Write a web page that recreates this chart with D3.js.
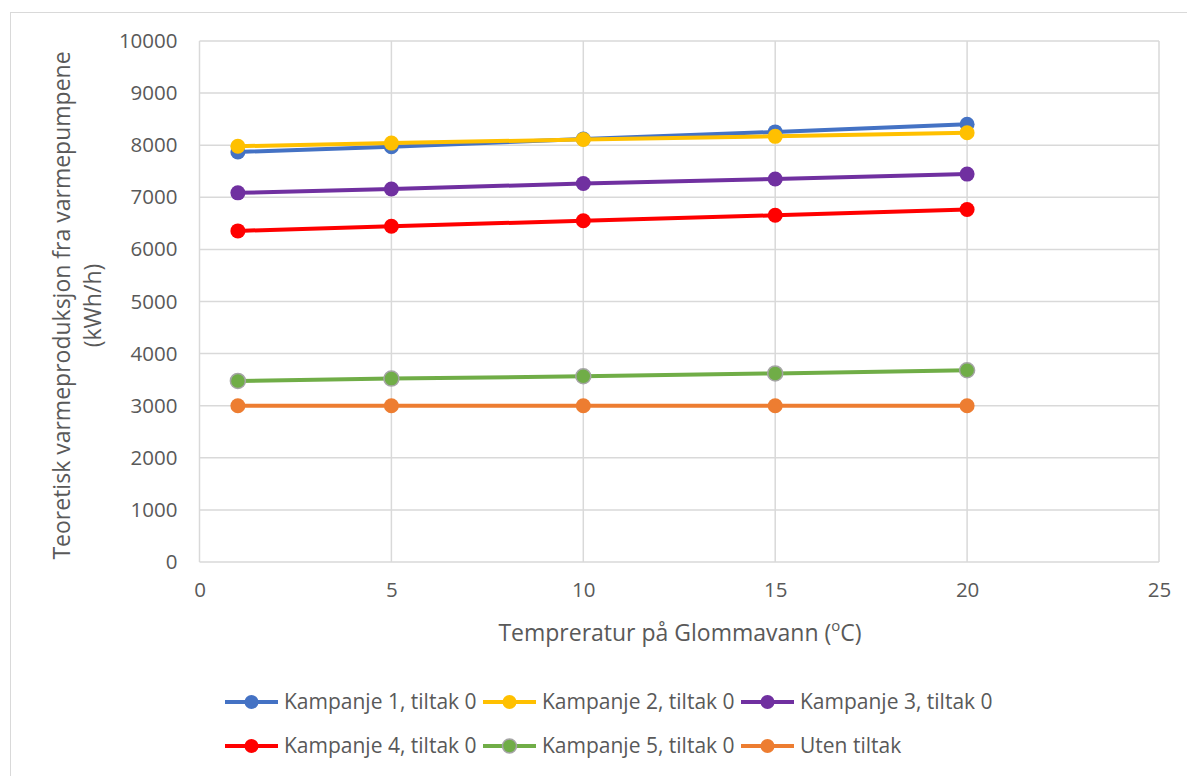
<!DOCTYPE html>
<html>
<head>
<meta charset="utf-8">
<script src="https://cdn.jsdelivr.net/npm/d3@7"></script>
<style>
  html, body { margin: 0; padding: 0; background: #fff; }
  svg { display: block; }
  text { font-family: "Open Sans", "Noto Sans", sans-serif; fill: #595959; }
</style>
</head>
<body>
<svg id="chart" width="1187" height="776"></svg>
<script>
// Water temperature (°C) at which heat output was evaluated
const temperatures = [1, 5, 10, 15, 20];

// Theoretical heat production from the heat pumps (kWh/h)
const kampanje1 = [7870, 7970, 8120, 8255, 8400];
const kampanje2 = [7980, 8040, 8110, 8170, 8240];
const kampanje3 = [7085, 7160, 7265, 7350, 7445];
const kampanje4 = [6355, 6445, 6550, 6655, 6765];
const kampanje5 = [3475, 3520, 3565, 3620, 3680];
const utenTiltak = [3000, 3000, 3000, 3000, 3000];

const seriesNames = [
  "Kampanje 1, tiltak 0", "Kampanje 2, tiltak 0", "Kampanje 3, tiltak 0",
  "Kampanje 4, tiltak 0", "Kampanje 5, tiltak 0", "Uten tiltak"
];
const seriesColors = ["#4472C4", "#FFC000", "#7030A0", "#FF0000", "#70AD47", "#ED7D31"];
const markerStrokes = [null, null, null, null, "#A5A5A5", null];

const xTicks = [0, 5, 10, 15, 20, 25];
const yTicks = [0, 1000, 2000, 3000, 4000, 5000, 6000, 7000, 8000, 9000, 10000];

const seriesValues = [kampanje1, kampanje2, kampanje3, kampanje4, kampanje5, utenTiltak];
const series = seriesNames.map((name, i) => ({
  name,
  color: seriesColors[i],
  markerStroke: markerStrokes[i],
  points: temperatures.map((t, j) => ({ x: t, y: seriesValues[i][j] }))
}));

const svg = d3.select("#chart");

// Chart frame
svg.append("rect")
  .attr("x", 10.5).attr("y", 12.5)
  .attr("width", 1200).attr("height", 800)
  .attr("fill", "none").attr("stroke", "#D9D9D9").attr("stroke-width", 1);

const plot = { left: 199.5, right: 1159, top: 41, bottom: 562 };

const x = d3.scaleLinear().domain([0, 25]).range([plot.left, plot.right]);
const y = d3.scaleLinear().domain([0, 10000]).range([plot.bottom, plot.top]);

// Gridlines
const grid = svg.append("g");
grid.selectAll("line.h").data(yTicks).join("line")
  .attr("x1", plot.left).attr("x2", plot.right)
  .attr("y1", d => y(d)).attr("y2", d => y(d))
  .attr("stroke", "#D9D9D9").attr("stroke-width", 1.5);
grid.selectAll("line.v").data(xTicks).join("line")
  .attr("y1", plot.top).attr("y2", plot.bottom)
  .attr("x1", d => x(d)).attr("x2", d => x(d))
  .attr("stroke", "#D9D9D9").attr("stroke-width", 1.5);

// Axes (labels only)
const yAxis = d3.axisLeft(y).tickValues(yTicks).tickSize(0).tickPadding(22).tickFormat(d3.format("d"));
const gy = svg.append("g").attr("transform", `translate(${plot.left},0)`).call(yAxis);
gy.select(".domain").remove();
gy.selectAll("text").style("font-size", "20.5px").attr("fill", "#595959");

const xAxis = d3.axisBottom(x).tickValues(xTicks).tickSize(0).tickPadding(20).tickFormat(d3.format("d"));
const gx = svg.append("g").attr("transform", `translate(0,${plot.bottom})`).call(xAxis);
gx.select(".domain").remove();
gx.selectAll("text").style("font-size", "20.5px").attr("fill", "#595959");

// Series lines and markers
const line = d3.line().x(d => x(d.x)).y(d => y(d.y));
series.forEach(s => {
  const g = svg.append("g");
  g.append("path").datum(s.points)
    .attr("d", line).attr("fill", "none")
    .attr("stroke", s.color).attr("stroke-width", 4).attr("stroke-linejoin", "round");
  g.selectAll("circle").data(s.points).join("circle")
    .attr("cx", d => x(d.x)).attr("cy", d => y(d.y)).attr("r", 7.5)
    .attr("fill", s.color)
    .attr("stroke", s.markerStroke || "none")
    .attr("stroke-width", s.markerStroke ? 1.5 : 0);
});

// Axis titles
const xTitle = svg.append("text")
  .attr("x", 680).attr("y", 641)
  .attr("text-anchor", "middle").style("font-size", "23px");
xTitle.append("tspan").text("Tempreratur på Glommavann (");
xTitle.append("tspan").text("o").attr("baseline-shift", "super").style("font-size", "15px");
xTitle.append("tspan").text("C)");

const yMid = (plot.top + plot.bottom) / 2 + 4;
[["Teoretisk varmeproduksjon fra varmepumpene", 70], ["(kWh/h)", 101]].forEach(([t, cx]) => {
  svg.append("text")
    .attr("transform", `translate(${cx},${yMid}) rotate(-90)`)
    .attr("text-anchor", "middle").style("font-size", "23px")
    .text(t);
});

// Legend: three columns, two rows
const legendCols = [225, 483, 741];
const legendRows = [702, 746];
const legend = svg.append("g");
series.forEach((s, i) => {
  const lx = legendCols[i % 3], ly = legendRows[Math.floor(i / 3)];
  const g = legend.append("g").attr("transform", `translate(${lx},${ly})`);
  g.append("line").attr("x1", 0).attr("x2", 53).attr("y1", 0).attr("y2", 0)
    .attr("stroke", s.color).attr("stroke-width", 4);
  g.append("circle").attr("cx", 26.5).attr("cy", 0).attr("r", 7)
    .attr("fill", s.color)
    .attr("stroke", s.markerStroke || "none")
    .attr("stroke-width", s.markerStroke ? 1.5 : 0);
  g.append("text").attr("x", 59).attr("y", 0).attr("dy", "0.35em")
    .style("font-size", "21px").text(s.name);
});
</script>
</body>
</html>
